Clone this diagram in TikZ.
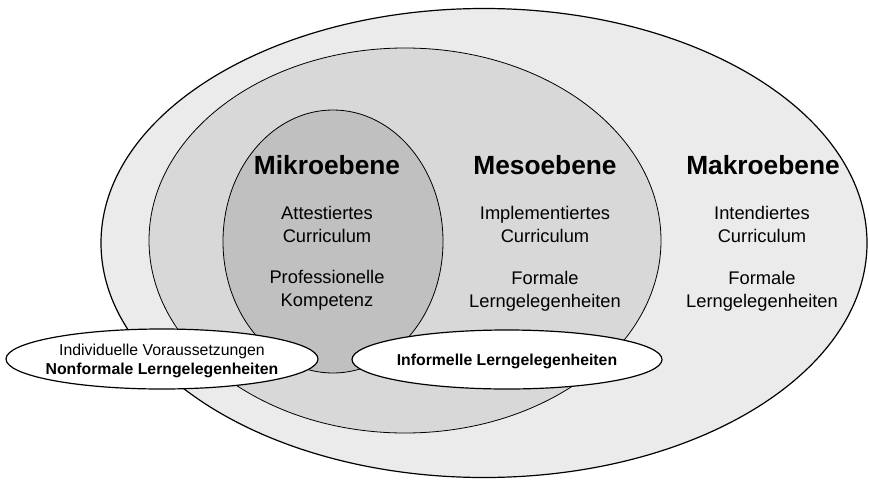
\documentclass[tikz,border=0pt]{standalone}
\usepackage{fontspec}
\setmainfont{Liberation Sans}
\usetikzlibrary{shapes.geometric}
\definecolor{makrofill}{HTML}{EBEBEB}
\definecolor{mesofill}{HTML}{D8D8D8}
\definecolor{mikrofill}{HTML}{C0C0C0}
\begin{document}
\begin{tikzpicture}[x=1pt,y=-1pt,
  level/.style={ellipse, draw=black, inner sep=0pt},
  head/.style={font=\fontsize{26.3}{30}\selectfont\bfseries, align=center, inner sep=0pt},
  body/.style={font=\fontsize{18.3}{22.8}\selectfont, align=center, inner sep=0pt},
  small/.style={font=\fontsize{15.8}{19}\selectfont, align=center, inner sep=0pt}]
\useasboundingbox (0,0) rectangle (869,479);
\node[level, fill=makrofill, line width=1.2pt, minimum width=766pt, minimum height=469pt] (makro) at (484,243) {};
\node[level, fill=mesofill, line width=0.8pt, minimum width=512pt, minimum height=385pt] (meso) at (405,240.5) {};
\node[level, fill=mikrofill, line width=0.8pt, minimum width=220pt, minimum height=263pt] (mikro) at (333,241.5) {};
\node[level, fill=white, line width=1.2pt, minimum width=312pt, minimum height=60pt] (indiv) at (162,359) {};
\node[level, fill=white, line width=1.2pt, minimum width=310pt, minimum height=59pt] (infor) at (507,359.5) {};
% headings
\node[head] (hmikro) at (327,165) {Mikroebene};
\node[head] (hmeso) at (545,165) {Mesoebene};
\node[head] (hmakro) at (763,165) {Makroebene};
% bodies
\node[body] (tmikro1) at (327,224.5) {Attestiertes\\Curriculum};
\node[body] (tmikro2) at (327,290.5) {Professionelle\\Kompetenz};
\node[body] (tmeso1) at (545,224.5) {Implementiertes\\Curriculum};
\node[body] (tmeso2) at (545,291) {Formale\\Lerngelegenheiten};
\node[body] (tmakro1) at (762,224.5) {Intendiertes\\Curriculum};
\node[body] (tmakro2) at (762,291) {Formale\\Lerngelegenheiten};
% small ellipses text
\node[small] (tindiv) at (162,360.5) {Individuelle Voraussetzungen\\\textbf{Nonformale Lerngelegenheiten}};
\node[small, font=\fontsize{15.8}{19}\selectfont\bfseries] (tinfor) at (507,361) {Informelle Lerngelegenheiten};
\end{tikzpicture}
\end{document}
